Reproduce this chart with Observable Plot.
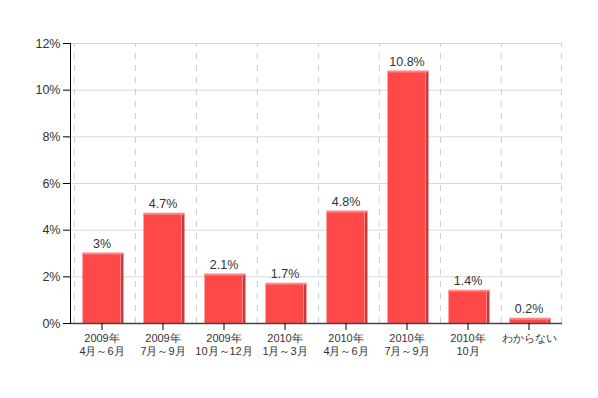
<!DOCTYPE html>
<html><head><meta charset="utf-8">
<script src="https://cdn.jsdelivr.net/npm/d3@7"></script>
<script src="https://cdn.jsdelivr.net/npm/@observablehq/plot@0.6"></script>
<style>body{margin:0;background:#fff;} svg{font-family:"Liberation Sans",Arial,sans-serif;}</style>
</head><body><div id="chart"></div>
<script>
const categories = ["2009年\n4月～6月","2009年\n7月～9月","2009年\n10月～12月","2010年\n1月～3月","2010年\n4月～6月","2010年\n7月～9月","2010年\n10月","わからない"];
const values = [3, 4.7, 2.1, 1.7, 4.8, 10.8, 1.4, 0.2];
const valueLabels = ["3%","4.7%","2.1%","1.7%","4.8%","10.8%","1.4%","0.2%"];
const yTicks = [0,2,4,6,8,10,12];

const data = categories.map((c,i)=>({cat:c, v:values[i], label:valueLabels[i]}));
const W = 598, H = 398, xr = [69.5, 559.5];
const bw = (xr[1]-xr[0]) / categories.length;
const inL = 11.5, inR = 11.5, side = 3, depth = 3;

const chart = Plot.plot({
  width: W, height: H,
  marginLeft: 70, marginRight: 36, marginTop: 43, marginBottom: 75,
  style: {fontFamily: '"Liberation Sans", Arial, sans-serif', color: "#333", background: "#fff"},
  x: {domain: categories, range: xr, padding: 0, label: null},
  y: {domain: [0, 12], label: null},
  marks: [
    Plot.gridY(yTicks, {stroke: "#d9d9d9", strokeOpacity: 1}),
    Plot.ruleX(categories, {x: d=>d, dx: -bw/2 + depth, stroke: "#ccc", strokeDasharray: "6,6", y1: 0, y2: 12}),
    Plot.ruleX(categories.slice(-1), {x: d=>d, dx: bw/2 + depth - 1, stroke: "#ccc", strokeDasharray: "6,6", y1: 0, y2: 12}),
    Plot.barY(data, {x: "cat", y: "v", fill: "#ff4848", insetLeft: inL, insetRight: inR}),
    Plot.barY(data, {x: "cat", y: "v", fill: "#c93a3a", insetLeft: bw - inR, insetRight: inR - side}),
    Plot.tickY(data, {x: "cat", y: "v", stroke: "#ff8484", strokeWidth: 2, dy: 0, insetLeft: inL, insetRight: inR - side}),
    Plot.text(data, {x: "cat", y: "v", text: "label", dy: -10, fontSize: 12.5, fill: "#333"}),
    Plot.ruleY([0], {stroke: "#444", strokeWidth: 1.5}),
    Plot.frame({anchor: "left", stroke: "#000"}),
    Plot.axisY(yTicks, {tickFormat: d => d + "%", tickSize: 7, tickPadding: 3, fontSize: 12.5, stroke: "#000", color: "#333"}),
    Plot.axisX({tickSize: 7, tickPadding: 3, fontSize: 11, lineHeight: 1.15, stroke: "#000"})
  ]
});
document.getElementById("chart").appendChild(chart);
</script></body></html>
